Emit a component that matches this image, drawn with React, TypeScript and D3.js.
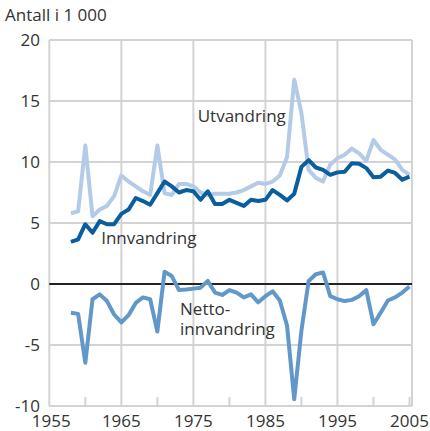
import React from "react";
import * as d3 from "d3";

const years: number[] = d3.range(1958, 2006);

const utvandring: number[] = [
  5.8, 5.95, 11.35, 5.55, 6.1, 6.4, 7.2, 8.9, 8.4, 8.0, 7.6, 7.3,
  11.35, 7.45, 7.3, 8.2, 8.2, 8.0, 7.5, 7.3, 7.4, 7.4, 7.4, 7.5,
  7.7, 8.0, 8.3, 8.2, 8.4, 8.9, 10.4, 16.75, 14.0, 9.35, 8.7, 8.4,
  9.8, 10.3, 10.6, 11.1, 10.7, 10.1, 11.8, 11.0, 10.6, 10.2, 9.35, 8.95,
];

const innvandring: number[] = [
  3.45, 3.65, 4.9, 4.2, 5.15, 4.9, 4.9, 5.75, 6.1, 7.05, 6.8, 6.5,
  7.45, 8.4, 8.0, 7.5, 7.7, 7.6, 6.9, 7.6, 6.55, 6.55, 6.9, 6.65,
  6.4, 6.9, 6.8, 6.9, 7.7, 7.3, 6.85, 7.4, 9.6, 10.15, 9.55, 9.35,
  8.95, 9.15, 9.2, 9.9, 9.85, 9.5, 8.75, 8.8, 9.3, 9.1, 8.55, 8.8,
];

const netto: number[] = [
  -2.35, -2.45, -6.45, -1.25, -0.85, -1.4, -2.5, -3.15, -2.55, -1.55, -1.1, -1.25,
  -3.9, 1.0, 0.65, -0.5, -0.45, -0.38, -0.3, 0.25, -0.7, -0.9, -0.5, -0.7,
  -1.1, -0.85, -1.5, -1.0, -0.6, -1.35, -3.4, -9.45, -3.8, 0.25, 0.8, 0.95,
  -1.0, -1.25, -1.4, -1.3, -1.0, -0.5, -3.3, -2.35, -1.35, -1.1, -0.7, -0.2,
];

const yTicks: number[] = [20, 15, 10, 5, 0, -5, -10];
const xLabelYears: number[] = [1955, 1965, 1975, 1985, 1995, 2005];
const xTickYears: number[] = [1960, 1970, 1980, 1990, 2000, 2005];
const xGridYears: number[] = [1965, 1975, 1985, 1995];

const yTitle = "Antall i 1 000";
const seriesLabels = {
  utvandring: ["Utvandring"],
  innvandring: ["Innvandring"],
  netto: ["Netto-", "innvandring"],
};

const FONT = "'Open Sans', 'DejaVu Sans', sans-serif";
const TEXT = "#333333";
const GRID = "#d3d3d3";
const FS = 17;

export default function App() {
  const x = d3.scaleLinear().domain([1955, 2005]).range([49.3, 409.5]);
  const y = d3.scaleLinear().domain([-10, 20]).range([406, 40]);
  const x0 = x(1955);
  const x1 = x(2005.35);

  const line = d3
    .line<number>()
    .x((_, i) => x(years[i]))
    .y((d) => y(d))
    .curve(d3.curveLinear);

  return (
    <div style={{ position: "fixed", left: 0, top: 0 }}>
      <svg width={430} height={431} style={{ display: "block" }}>
        <rect width={430} height={431} fill="#ffffff" />
        {yTicks
          .filter((t) => t !== 0)
          .map((t) => (
            <line key={"h" + t} x1={x0} x2={x1} y1={y(t)} y2={y(t)} stroke={GRID} strokeWidth={2} />
          ))}
        {xGridYears.map((yr) => (
          <line key={"v" + yr} x1={x(yr)} x2={x(yr)} y1={y(20)} y2={y(-10)} stroke={GRID} strokeWidth={2} />
        ))}
        <line x1={x0} x2={x0} y1={y(20)} y2={y(-10)} stroke={GRID} strokeWidth={2} />
        <line x1={x1} x2={x1} y1={y(20)} y2={y(-10)} stroke={GRID} strokeWidth={2} />
        {xTickYears.map((yr) => (
          <line key={"t" + yr} x1={x(yr)} x2={x(yr)} y1={y(-10) - 9} y2={y(-10)} stroke={GRID} strokeWidth={2} />
        ))}
        <line x1={x0} x2={x1} y1={y(0)} y2={y(0)} stroke="#222222" strokeWidth={2} />

        <path d={line(utvandring) || ""} fill="none" stroke="#b3cbe6" strokeWidth={4} strokeLinejoin="round" />
        <path d={line(innvandring) || ""} fill="none" stroke="#0a5e9e" strokeWidth={4} strokeLinejoin="round" />
        <path d={line(netto) || ""} fill="none" stroke="#6198c9" strokeWidth={4} strokeLinejoin="round" />

        {yTicks.map((t) => (
          <text key={"yl" + t} x={40} y={y(t) + 6} textAnchor="end" fontFamily={FONT} fontSize={FS} fill={TEXT}>
            {t}
          </text>
        ))}
        {xLabelYears.map((yr) => (
          <text key={"xl" + yr} x={x(yr) + (yr === 1955 ? 2 : 0)} y={427} textAnchor="middle" fontFamily={FONT} fontSize={FS} fill={TEXT}>
            {yr}
          </text>
        ))}
        <text x={5} y={21} fontFamily={FONT} fontSize={FS} fill={TEXT}>
          {yTitle}
        </text>
        <text x={x(1975.6)} y={y(13.3)} fontFamily={FONT} fontSize={FS} fill={TEXT}>
          {seriesLabels.utvandring[0]}
        </text>
        <text x={x(1962.2)} y={y(3.25)} fontFamily={FONT} fontSize={FS} fill={TEXT}>
          {seriesLabels.innvandring[0]}
        </text>
        <text x={x(1973.15)} y={y(-2.55)} fontFamily={FONT} fontSize={FS} fill={TEXT}>
          {seriesLabels.netto[0]}
        </text>
        <text x={x(1973.15)} y={y(-4.2)} fontFamily={FONT} fontSize={FS} fill={TEXT}>
          {seriesLabels.netto[1]}
        </text>
      </svg>
    </div>
  );
}
